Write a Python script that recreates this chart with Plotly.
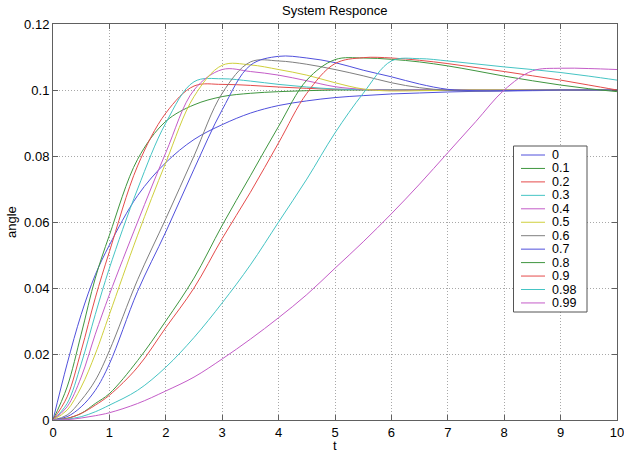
import plotly.graph_objects as go

# ---- data ----
t = [0, 0.25, 0.5, 0.75, 1, 1.5, 2, 2.5, 3, 3.5, 4, 4.5, 5, 5.5, 6, 6.5, 7, 7.5, 8, 8.5, 9, 9.5, 10]

labels = ["0", "0.1", "0.2", "0.3", "0.4", "0.5", "0.6", "0.7", "0.8", "0.9", "0.98", "0.99"]

s_0 = [0, 0.017, 0.032, 0.044, 0.053, 0.068, 0.078, 0.085, 0.0895, 0.093, 0.0953, 0.0967, 0.0977,
       0.0983, 0.0988, 0.0991, 0.0994, 0.0996, 0.0997, 0.0998, 0.0999, 0.0999, 0.1]
s_01 = [0, 0.010, 0.026, 0.043, 0.056, 0.079, 0.0905, 0.0955, 0.098, 0.099, 0.0995, 0.0998, 0.1,
        0.1, 0.1, 0.1, 0.1, 0.1, 0.1, 0.1, 0.1, 0.1, 0.1]
s_02 = [0, 0.007, 0.021, 0.037, 0.051, 0.077, 0.093, 0.1012, 0.1017, 0.1014, 0.1009, 0.1005, 0.1002,
        0.1001, 0.1, 0.1, 0.1, 0.1, 0.1, 0.1, 0.1, 0.1, 0.1]
s_03 = [0, 0.005, 0.017, 0.032, 0.046, 0.070, 0.090, 0.1025, 0.1034, 0.1027, 0.1017, 0.1009, 0.1003,
        0.1001, 0.1, 0.1, 0.1, 0.1, 0.1, 0.1, 0.1, 0.1, 0.1]
s_04 = [0, 0.004, 0.013, 0.026, 0.038, 0.060, 0.081, 0.100, 0.1062, 0.1056, 0.1045, 0.1028, 0.101,
        0.1002, 0.0999, 0.1, 0.1, 0.1, 0.1, 0.1, 0.1, 0.1, 0.1]
s_05 = [0, 0.003, 0.010, 0.020, 0.032, 0.056, 0.078, 0.098, 0.1075, 0.1076, 0.1062, 0.1045, 0.1022,
        0.1003, 0.0997, 0.0998, 0.0999, 0.1, 0.1, 0.1, 0.1, 0.1, 0.1]
s_06 = [0, 0.0015, 0.006, 0.012, 0.021, 0.0425, 0.061, 0.080, 0.099, 0.1085, 0.1088, 0.1078, 0.1062,
        0.1043, 0.1022, 0.1007, 0.0999, 0.0997, 0.0998, 0.0999, 0.1, 0.1, 0.1]
s_07 = [0, 0.001, 0.004, 0.009, 0.017, 0.039, 0.057, 0.076, 0.094, 0.1075, 0.1102, 0.1097, 0.1083,
        0.106, 0.104, 0.1018, 0.1002, 0.0998, 0.0998, 0.0999, 0.1, 0.1, 0.1]
s_08 = [0, 0.0005, 0.002, 0.005, 0.008, 0.018, 0.030, 0.043, 0.059, 0.074, 0.089, 0.103, 0.1092,
        0.1097, 0.1093, 0.1085, 0.1073, 0.1058, 0.1042, 0.1028, 0.1015, 0.1004, 0.0995]
s_09 = [0, 0.0005, 0.002, 0.0045, 0.0075, 0.016, 0.028, 0.040, 0.055, 0.069, 0.084, 0.099, 0.108,
        0.1098, 0.1097, 0.109, 0.108, 0.1068, 0.1056, 0.1043, 0.103, 0.1015, 0.100]
s_098 = [0, 0.0003, 0.001, 0.0025, 0.0045, 0.009, 0.016, 0.025, 0.0355, 0.047, 0.060, 0.073, 0.087,
         0.099, 0.1088, 0.1095, 0.1088, 0.1079, 0.107, 0.1062, 0.1053, 0.1042, 0.103]
s_099 = [0, 0.0001, 0.0006, 0.0013, 0.0022, 0.005, 0.0088, 0.013, 0.0185, 0.0245, 0.031, 0.038, 0.046,
         0.054, 0.0625, 0.0715, 0.081, 0.0905, 0.1, 0.1058, 0.1066, 0.1065, 0.1062]

series = [s_0, s_01, s_02, s_03, s_04, s_05, s_06, s_07, s_08, s_09, s_098, s_099]

colors = ["#5050dc", "#3f963f", "#e54b4b", "#45c4c4", "#c45cc8", "#cfcf3c", "#7f7f7f",
          "#5050dc", "#3f963f", "#e54b4b", "#45c4c4", "#c45cc8"]

x_ticks = [0, 1, 2, 3, 4, 5, 6, 7, 8, 9, 10]
y_ticks = [0, 0.02, 0.04, 0.06, 0.08, 0.1, 0.12]
y_tick_text = ["0", "0.02", "0.04", "0.06", "0.08", "0.1", "0.12"]

FONT = "Liberation Sans, Arial, sans-serif"
FS = 13
LFS = 12.5

fig = go.Figure()
for lab, ys, c in zip(labels, series, colors):
    fig.add_trace(go.Scatter(x=t, y=ys, mode="lines", name=lab,
                             line=dict(color=c, width=1, shape="spline", smoothing=1.0),
                             showlegend=False, hoverinfo="skip"))

# ---- manual MATLAB-style legend and texts (layout decoration) ----
W, H = 624, 453
L, R, T, B = 53, 617, 24, 420
pw, ph = R - L, B - T


def px2x(px):
    return (px - L) / pw


def py2y(py):
    return (B - py) / ph


shapes = [dict(type="rect", xref="paper", yref="paper",
               x0=px2x(513.5), x1=px2x(587), y0=py2y(312), y1=py2y(146),
               line=dict(color="#555555", width=1), fillcolor="white", layer="above")]
annotations = []
row0, step = 155, 13.45
for i, (lab, c) in enumerate(zip(labels, colors)):
    yy = py2y(row0 + i * step)
    shapes.append(dict(type="line", xref="paper", yref="paper",
                       x0=px2x(521), x1=px2x(545), y0=yy, y1=yy,
                       line=dict(color=c, width=1), layer="above"))
    annotations.append(dict(xref="paper", yref="paper", x=px2x(551), y=yy, text=lab,
                            showarrow=False, xanchor="left", yanchor="middle", borderpad=0,
                            font=dict(family=FONT, size=LFS, color="black")))

annotations.append(dict(xref="paper", yref="paper", x=0.5, y=py2y(11), text="System Responce",
                        showarrow=False, xanchor="center", yanchor="middle",
                        font=dict(family=FONT, size=FS, color="black")))
annotations.append(dict(xref="paper", yref="paper", x=0.5, y=py2y(445), text="t",
                        showarrow=False, xanchor="center", yanchor="middle", borderpad=0,
                        font=dict(family=FONT, size=FS, color="black")))
annotations.append(dict(xref="paper", yref="paper", x=px2x(11), y=0.5, text="angle",
                        showarrow=False, xanchor="center", yanchor="middle", textangle=-90,
                        font=dict(family=FONT, size=FS, color="black")))

axis_common = dict(showline=True, mirror="ticks", linecolor="#606060", linewidth=1,
                   ticks="inside", ticklen=5, tickcolor="#606060", automargin=False,
                   ticklabeloverflow="allow",
                   showgrid=True, gridcolor="#a8a8a8", griddash="1px,2px", gridwidth=1,
                   zeroline=False, tickfont=dict(family=FONT, size=FS, color="black"))

fig.update_layout(
    width=W, height=H,
    margin=dict(l=L, r=W - R, t=T, b=H - B, pad=0),
    paper_bgcolor="white", plot_bgcolor="white",
    font=dict(family=FONT, size=FS, color="black"),
    xaxis=dict(range=[0, 10], tickvals=x_ticks, **axis_common),
    yaxis=dict(range=[0, 0.12], tickvals=y_ticks, ticktext=y_tick_text, **axis_common),
    shapes=shapes, annotations=annotations, showlegend=False,
)

fig.write_html("out.html", config={"displayModeBar": False},
               post_script="document.body.style.margin='0';document.body.style.overflow='hidden';")
